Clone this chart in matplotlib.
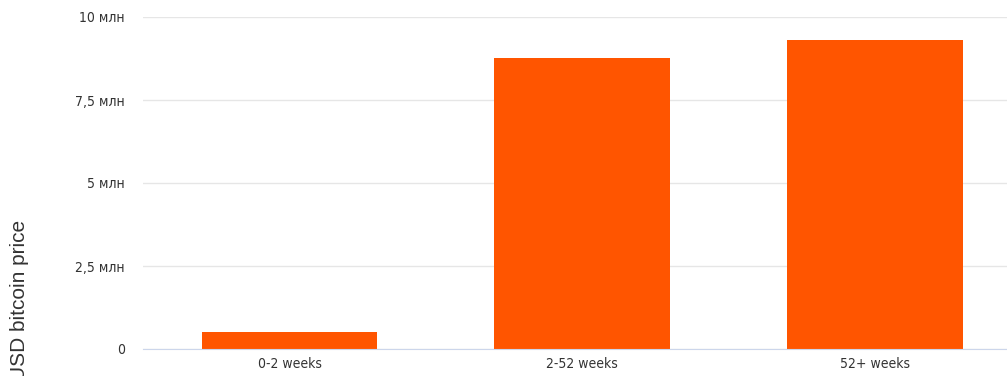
import matplotlib.pyplot as plt

categories = ['0-2 weeks', '2-52 weeks', '52+ weeks']
values = [0.51e6, 8.77e6, 9.31e6]
yticks = [0, 2.5e6, 5e6, 7.5e6, 10e6]
ytick_labels = ['0', '2,5 млн', '5 млн', '7,5 млн', '10 млн']

fig = plt.figure(figsize=(10.07, 3.76), dpi=100)
ax = fig.add_axes([143 / 1007, 27 / 376, 1 - 143 / 1007, 332 / 376])

x = range(len(categories))
ax.bar(x, values, width=0.6, color='#ff5500', zorder=3)

ax.set_xlim(-0.5, 2.45)
ax.set_ylim(0, 10e6)
ax.set_yticks(yticks)
ax.set_yticklabels(ytick_labels, family='DejaVu Sans', stretch='condensed',
                   fontsize=10, color='#333333')
ax.set_xticks(list(x))
ax.set_xticklabels(categories, family='DejaVu Sans', stretch='condensed',
                   fontsize=10, color='#333333')
ax.tick_params(axis='both', length=0)
ax.tick_params(axis='y', pad=13)
ax.tick_params(axis='x', pad=6)

ax.grid(axis='y', color='#e6e6e6', linewidth=1, zorder=0)
for s in ['top', 'right', 'left']:
    ax.spines[s].set_visible(False)
ax.spines['bottom'].set_color('#ccd6eb')
ax.spines['bottom'].set_zorder(4)

fig.text(20 / 1007, 0.2, 'USD bitcoin price', rotation=90, fontsize=15,
         color='#333333', ha='center', va='center', family='Liberation Sans')

fig.savefig('out.png', dpi=100)
